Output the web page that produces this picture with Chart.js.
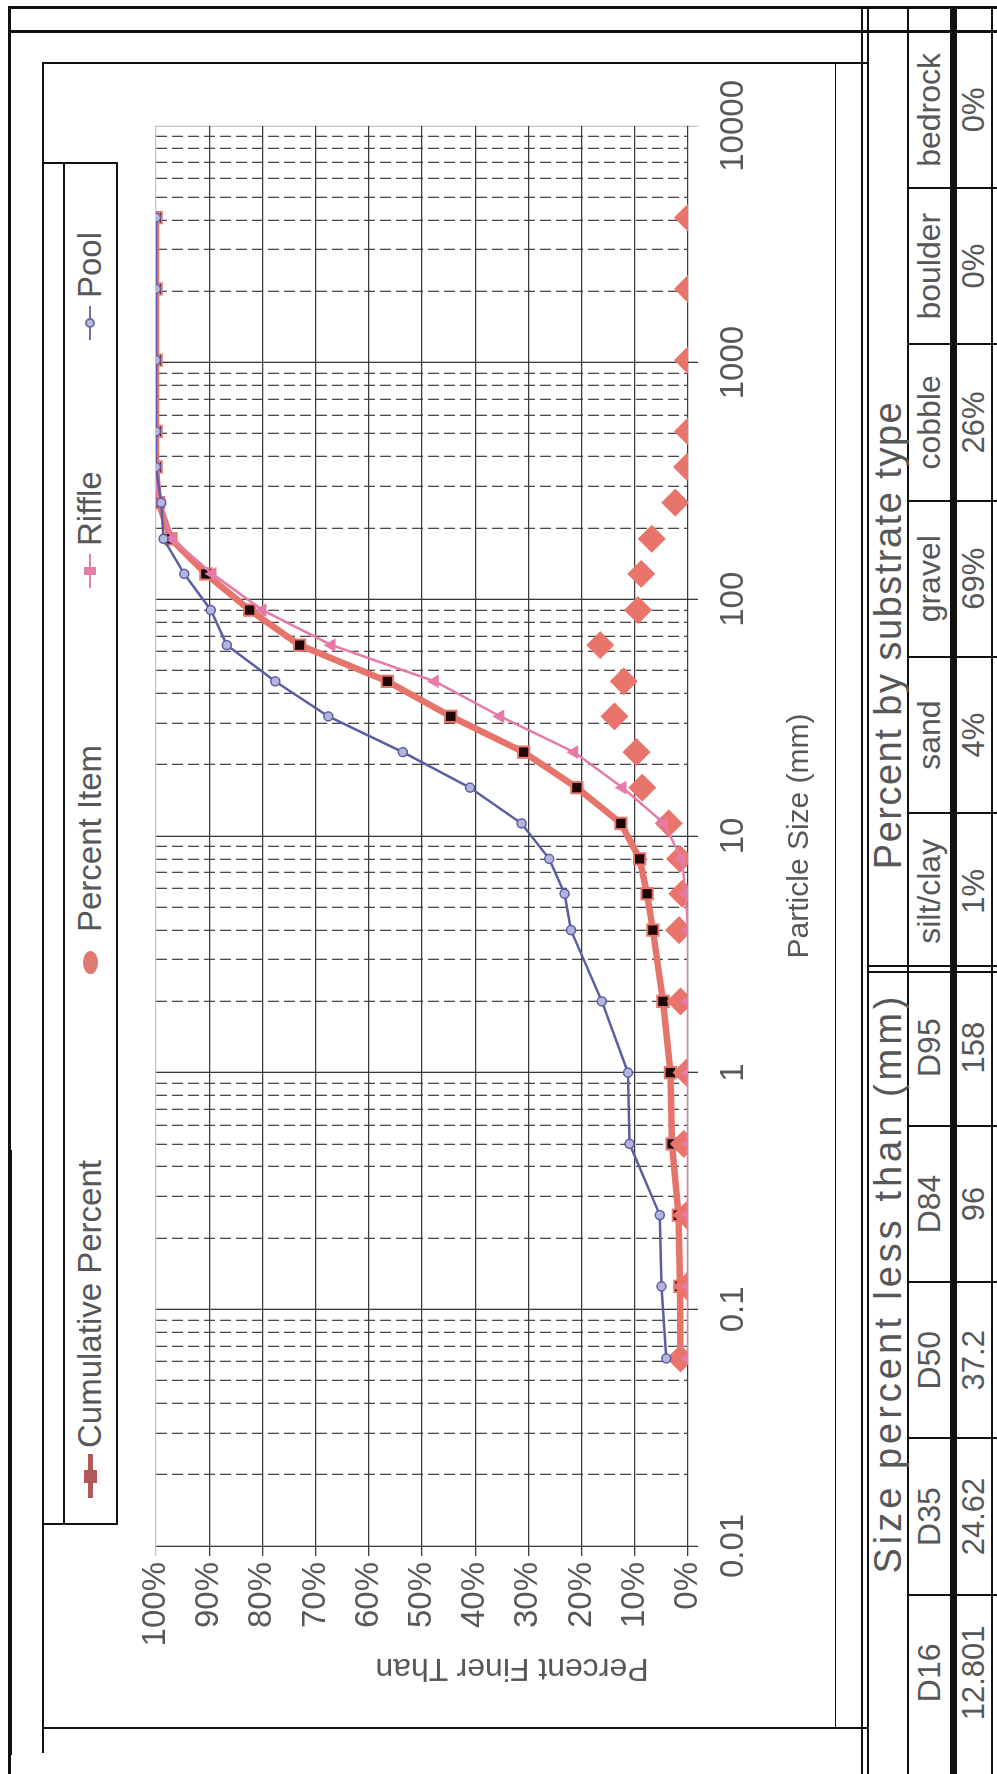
<!DOCTYPE html>
<html lang="en">
<head>
<meta charset="UTF-8">
<title>Particle Size Distribution</title>
<script src="https://cdn.jsdelivr.net/npm/chart.js"></script>
<style>
  html, body { margin: 0; padding: 0; background: #fff; }
  body { width: 997px; height: 1774px; overflow: hidden; position: relative;
         font-family: "Liberation Sans", Arial, sans-serif; color: #575757; }
  /* the sheet is laid out landscape and turned onto the portrait page */
  #sheet { position: absolute; left: 0; top: 0; width: 1774px; height: 997px;
           transform-origin: 0 0; transform: translate(0, 1774px) rotate(-90deg); }
  .ln { position: absolute; background: #111; }
  #chartBox { position: absolute; left: 60px; top: 120px; width: 1650px; height: 720px; }
  .txt { position: absolute; white-space: nowrap; text-align: center; }
  .lg { position: absolute; top: 71px; font-size: 33px; line-height: 38px; white-space: nowrap; }
  .mk { position: absolute; }
</style>
</head>
<body>
<div id="sheet">
  <!-- outer frame -->
  <div class="ln" style="left:0;top:8px;width:1768px;height:3px"></div>
  <div class="ln" style="left:1765px;top:8px;width:3px;height:989px"></div>
  <div class="ln" style="left:1741px;top:8px;width:3px;height:989px"></div>
  <div class="ln" style="left:19px;top:8px;width:605px;height:4px"></div>
  <!-- chart box -->
  <div class="ln" style="left:21px;top:42px;width:1691px;height:2px"></div>
  <div class="ln" style="left:1710px;top:42px;width:2px;height:827px"></div>
  <div class="ln" style="left:45px;top:42px;width:2px;height:827px"></div>
  <div class="ln" style="left:46px;top:835px;width:1665px;height:1px"></div>
  <!-- legend box -->
  <div class="ln" style="left:249px;top:63px;width:1363px;height:2px"></div>
  <div class="ln" style="left:249px;top:116px;width:1363px;height:2px"></div>
  <div class="ln" style="left:249px;top:42px;width:2px;height:76px"></div>
  <div class="ln" style="left:1610px;top:42px;width:2px;height:76px"></div>
  <!-- table rules -->
  <div class="ln" style="left:0;top:861px;width:1768px;height:2px"></div>
  <div class="ln" style="left:0;top:867px;width:1768px;height:2px"></div>
  <div class="ln" style="left:0;top:907px;width:1768px;height:2px"></div>
  <div class="ln" style="left:0;top:950px;width:1768px;height:7px"></div>
  <div class="ln" style="left:0;top:991px;width:1768px;height:2px"></div>
  <div id="tables"></div>

  <!-- legend -->
  <div class="mk" style="left:276px;top:88px;width:44px;height:5px;background:#b0595b"></div>
  <div class="mk" style="left:291px;top:84px;width:13px;height:13px;background:#b0595b"></div>
  <div class="lg" style="left:326px">Cumulative Percent</div>
  <div class="mk" style="left:800px;top:83px;width:23px;height:15px;border-radius:50%;background:#df7a72"></div>
  <div class="lg" style="left:842px">Percent Item</div>
  <div class="mk" style="left:1186px;top:89px;width:34px;height:2px;background:#e07fa8"></div>
  <div class="mk" style="left:1199px;top:84px;width:8px;height:12px;background:#e07fa8"></div>
  <div class="lg" style="left:1228px">Riffle</div>
  <div class="mk" style="left:1434px;top:89px;width:34px;height:2px;background:#6f72a6"></div>
  <div class="mk" style="left:1446px;top:85px;width:10px;height:10px;border-radius:50%;border:2px solid #6f72a6;box-sizing:border-box;background:#b9bbdb"></div>
  <div class="lg" style="left:1476px">Pool</div>

  <div id="chartBox"><canvas id="psd" width="1650" height="720"></canvas></div>
  <div class="txt" style="left:-46px;top:493px;width:300px;font-size:32px;line-height:38px;transform:rotate(-90deg)">Percent Finer Than</div>
</div>

<script>
// sieve classes (mm) and the three gradation curves, percent finer than
const sizes = [0.062, 0.125, 0.25, 0.5, 1, 2, 4, 5.7, 8, 11.3, 16, 22.6, 32, 45, 64, 90, 128, 180, 256, 362, 512, 1024, 2048, 4096];
const cumulative = [1.4, 1.5, 1.8, 3.0, 3.3, 4.7, 6.6, 7.7, 9.1, 12.6, 20.9, 30.9, 44.6, 56.5, 73.0, 82.4, 90.6, 97.2, 99.5, 100, 100, 100, 100, 100];
const percentItem = [1.4, 0.2, 0.3, 0.8, 0.3, 1.4, 1.7, 1.1, 1.5, 3.6, 8.6, 9.7, 13.8, 12.1, 16.5, 9.4, 8.8, 6.8, 2.4, 0.2, 0, 0, 0, 0];
const riffle = [0, 0, 0, 0, 0, 0, 0, 0.4, 1.2, 4.5, 12.3, 21.4, 35.3, 47.6, 67.0, 80.0, 89.4, 97.0, 99.6, 100, 100, 100, 100, 100];
const pool = [4.1, 5.0, 5.3, 11.0, 11.3, 16.2, 22.0, 23.2, 26.1, 31.3, 41.0, 53.6, 67.6, 77.6, 86.7, 89.7, 94.7, 98.6, 99.0, 100, 100, 100, 100, 100];

const sizeTicks = [0.01, 0.1, 1, 10, 100, 1000, 10000];
const percentTicks = [0, 10, 20, 30, 40, 50, 60, 70, 80, 90, 100];

// summary tables
const sizeLabels = ['D16', 'D35', 'D50', 'D84', 'D95'];
const sizeValues = ['12.801', '24.62', '37.2', '96', '158'];
const substrateLabels = ['silt/clay', 'sand', 'gravel', 'cobble', 'boulder', 'bedrock'];
const substrateValues = ['1%', '4%', '69%', '26%', '0%', '0%'];

const FONT = '"Liberation Sans", Arial, sans-serif';
const TEXT = '#585858';

function buildTables() {
  const host = document.getElementById('tables');
  const x0 = 23, w = 156.3;
  const labels = sizeLabels.concat(substrateLabels);
  const values = sizeValues.concat(substrateValues);
  let html = '';
  labels.forEach((lab, i) => {
    const left = x0 + i * w;
    html += `<div class="txt" style="left:${left}px;top:909px;width:${w}px;font-size:32px;line-height:41px">${lab}</div>`;
    html += `<div class="txt" style="left:${left}px;top:957px;width:${w}px;font-size:31px;line-height:34px">${values[i]}</div>`;
    if (i > 0 && i !== sizeLabels.length) {
      html += `<div class="ln" style="left:${left - 1}px;top:909px;width:2px;height:88px"></div>`;
    }
  });
  const split = x0 + sizeLabels.length * w;
  html += `<div class="ln" style="left:${split - 4}px;top:869px;width:2px;height:128px"></div>`;
  html += `<div class="ln" style="left:${split + 2}px;top:869px;width:2px;height:128px"></div>`;
  html += `<div class="ln" style="left:${x0 + 11 * w}px;top:869px;width:2px;height:128px"></div>`;
  html += `<div class="txt" style="left:91px;top:867px;width:800px;font-size:38px;line-height:42px;letter-spacing:4px">Size percent less than (mm)</div>`;
  html += `<div class="txt" style="left:739px;top:867px;width:800px;font-size:38px;line-height:42px;letter-spacing:1.5px">Percent by substrate type</div>`;
  host.innerHTML = html;
}
buildTables();

const pts = arr => sizes.map((s, i) => ({ x: s, y: arr[i] }));

new Chart(document.getElementById('psd'), {
  type: 'line',
  data: {
    datasets: [
      { label: 'Pool', data: pts(pool), borderColor: '#5a5ea3', backgroundColor: '#b3b5dc',
        borderWidth: 2.5, pointStyle: 'circle', pointRadius: 4.5, pointBorderWidth: 1.5, order: 0 },
      { label: 'Riffle', data: pts(riffle), borderColor: '#e67aa8', backgroundColor: '#e67aa8',
        borderWidth: 2.5, pointStyle: 'triangle', pointRadius: 5.5, order: 1 },
      { label: 'Percent Item', data: pts(percentItem), showLine: false, pointStyle: 'rectRot',
        pointRadius: 14, backgroundColor: '#e8746c', borderColor: '#e8746c', borderWidth: 0, order: 2 },
      { label: 'Cumulative Percent', data: pts(cumulative), borderColor: '#e6746b', borderWidth: 6.5,
        pointStyle: 'rect', pointRadius: 8, backgroundColor: '#1c0606', pointBorderColor: '#e6746b',
        pointBorderWidth: 2, order: 3 }
    ]
  },
  options: {
    responsive: false,
    animation: false,
    layout: { padding: { top: 36, right: 48, left: 0, bottom: 0 } },
    plugins: { legend: { display: false }, tooltip: { enabled: false } },
    scales: {
      x: {
        type: 'logarithmic', position: 'bottom', min: 0.01, max: 10000,
        afterBuildTicks: s => { s.ticks = sizeTicks.map(v => ({ value: v, major: true })); },
        afterFit: s => { s.height = 152; },
        grid: { color: c => (c.tick && c.tick.value === 10000 ? '#c4c4c4' : '#3a3a3a'), lineWidth: 1.3, tickLength: 10 },
        border: { display: false },
        ticks: { callback: v => String(v), autoSkip: false, maxRotation: 0, padding: 16,
                 color: TEXT, font: { family: FONT, size: 33 } },
        title: { display: true, text: 'Particle Size (mm)', color: TEXT,
                 font: { family: FONT, size: 30 }, padding: { top: 0, bottom: 22 } }
      },
      xMinor: {
        type: 'logarithmic', position: 'bottom', min: 0.01, max: 10000,
        afterBuildTicks: s => {
          const t = [];
          sizeTicks.slice(0, -1).forEach(d => { for (let k = 2; k < 10; k++) t.push({ value: k * d }); });
          s.ticks = t;
        },
        afterFit: s => { s.height = 0; },
        grid: { color: '#4a4a4a', lineWidth: 1.3, drawTicks: false },
        border: { display: false, dash: [11, 5] },
        ticks: { display: false }
      },
      y: {
        min: 0, max: 100,
        afterBuildTicks: s => { s.ticks = percentTicks.map(v => ({ value: v })); },
        afterFit: s => { s.width = 168; },
        grid: { color: c => (c.tick && c.tick.value === 100 ? '#c4c4c4' : '#3a3a3a'), lineWidth: 1.3, tickLength: 10 },
        border: { display: false },
        ticks: { callback: v => v + '%', padding: 6, color: TEXT, font: { family: FONT, size: 33 } }
      }
    }
  }
});
</script>
</body>
</html>
